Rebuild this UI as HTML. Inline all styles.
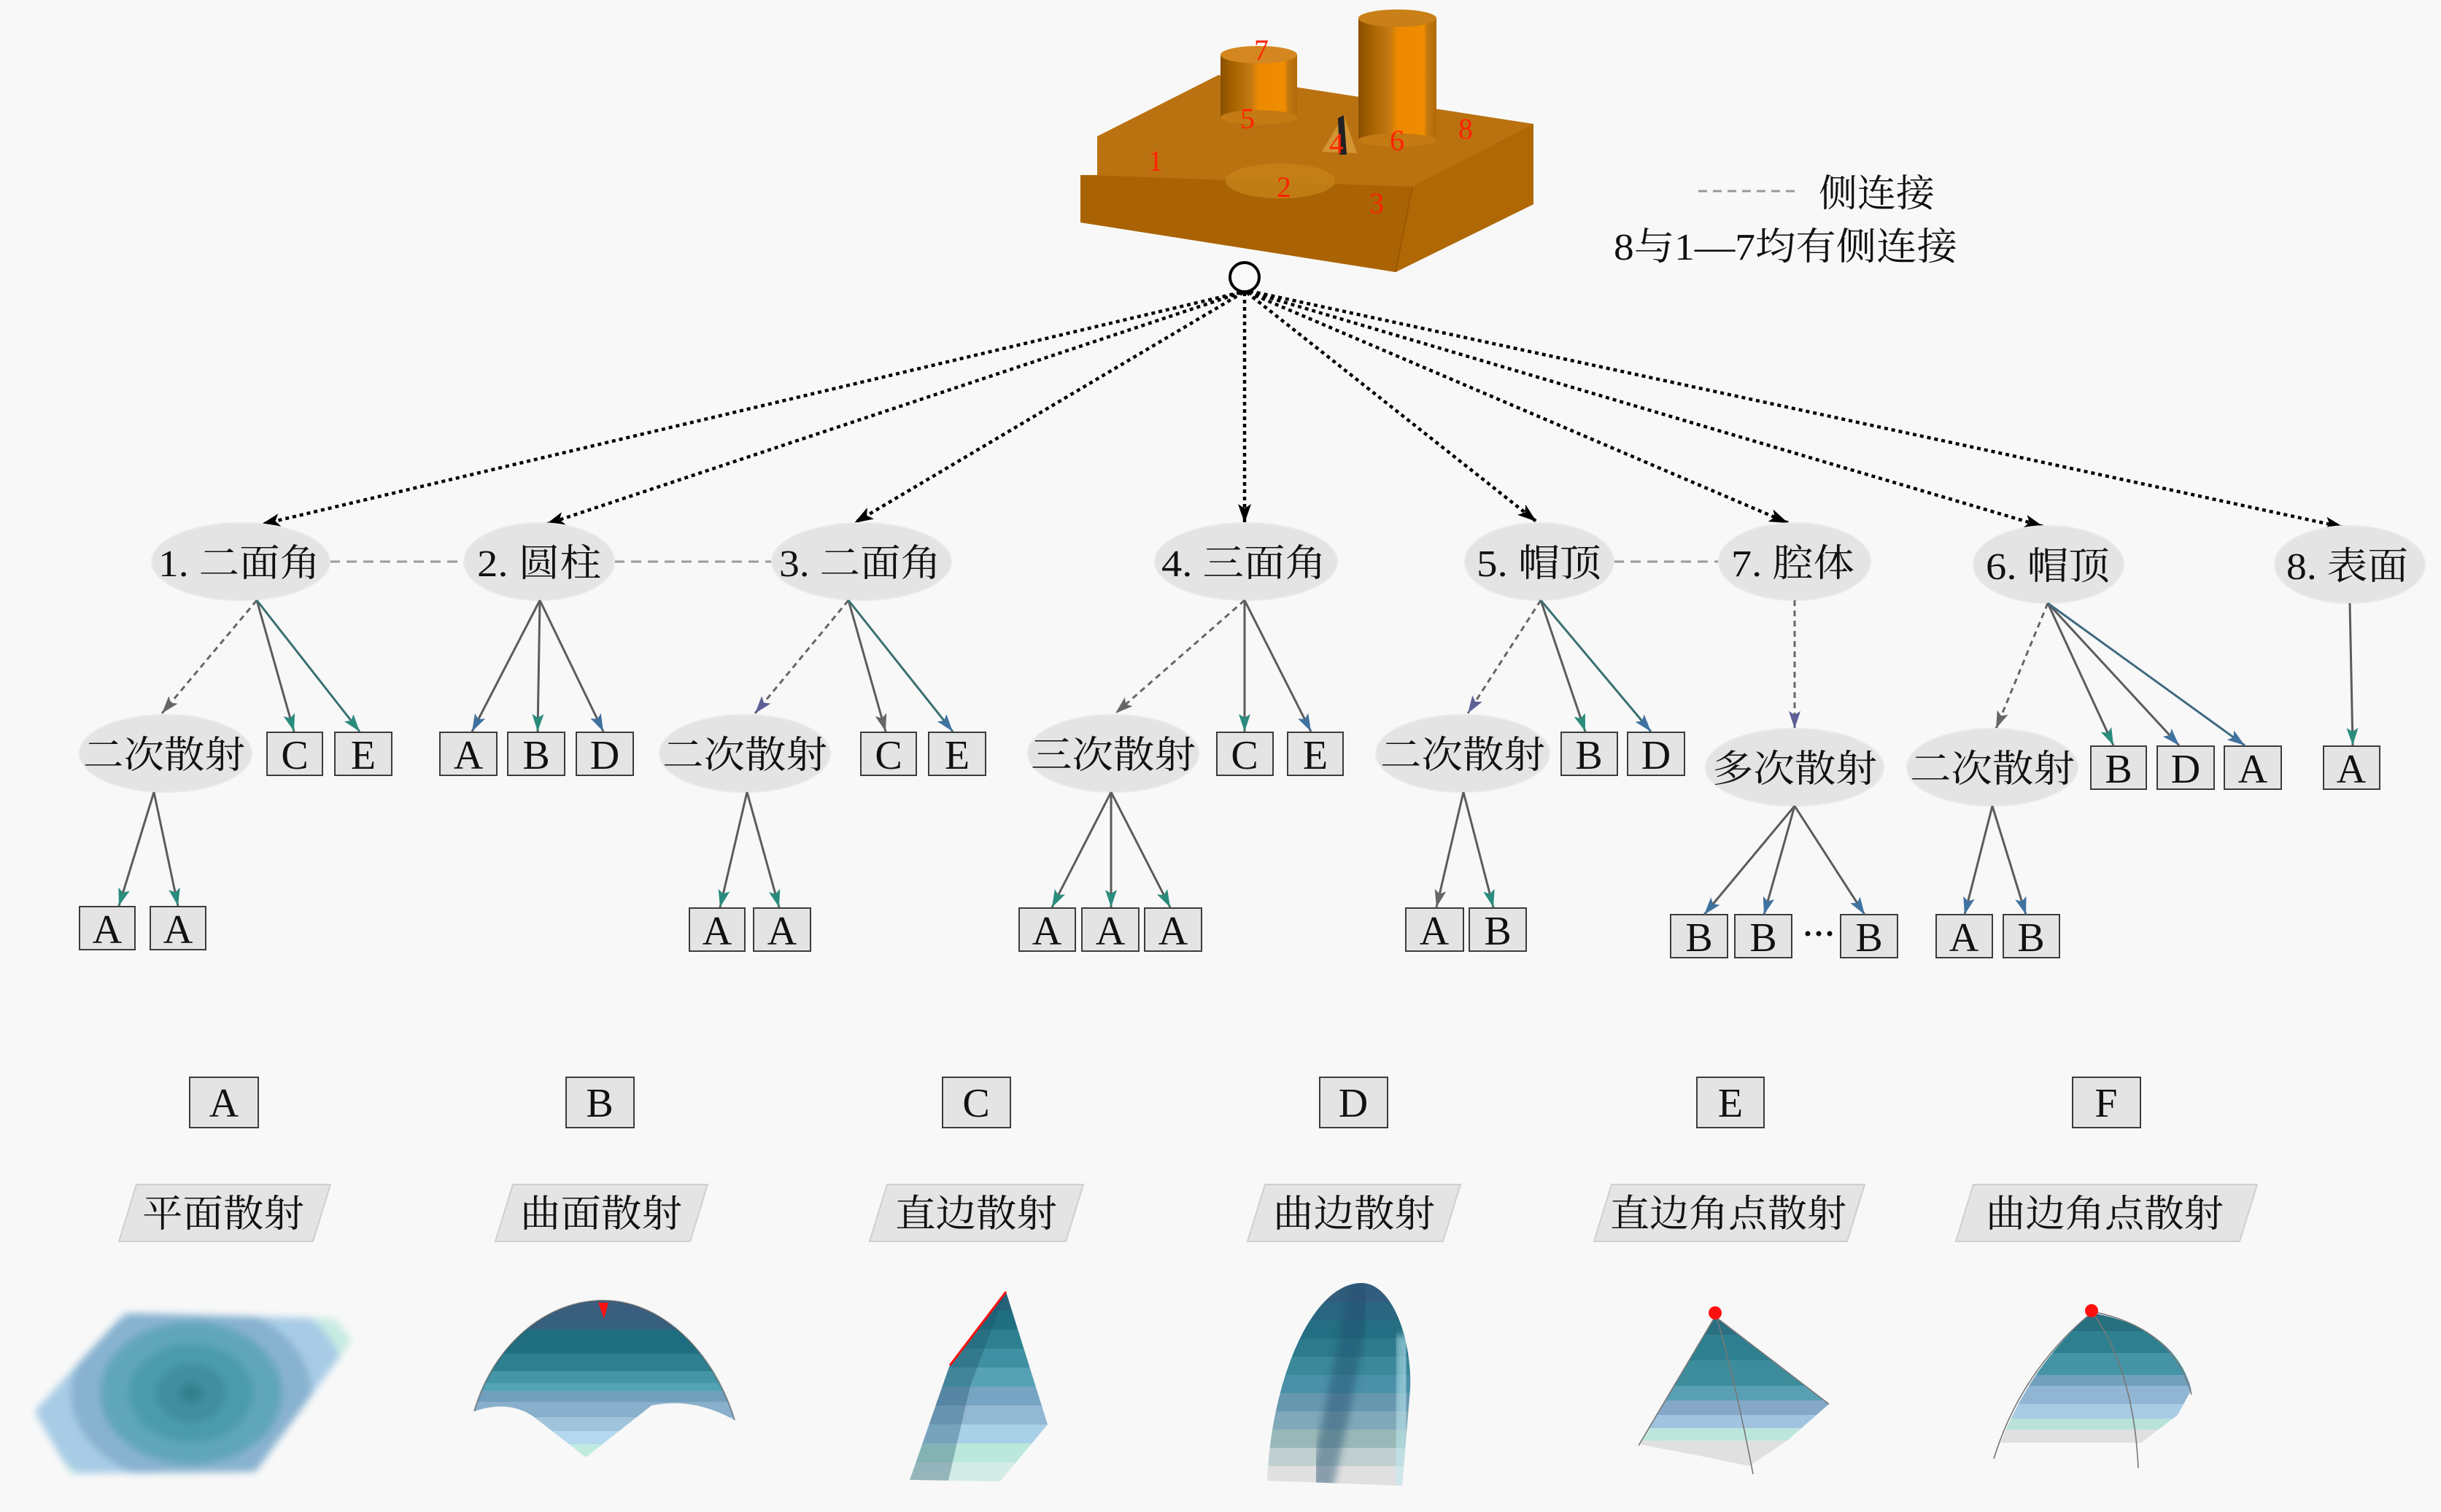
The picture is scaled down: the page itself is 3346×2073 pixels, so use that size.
<!DOCTYPE html>
<html>
<head>
<meta charset="utf-8">
<style>
  html,body{margin:0;padding:0;background:#f8f8f8;}
  body{width:3346px;height:2073px;overflow:hidden;}
  svg{display:block;}
  .cj{font-family:"Liberation Serif","Noto Serif CJK SC","Noto Sans CJK SC",serif;fill:#111;}
  .lt{font-family:"Liberation Serif",serif;fill:#111;}
</style>
</head>
<body>
<svg width="3346" height="2073" viewBox="0 0 3346 2073" xmlns="http://www.w3.org/2000/svg">
<defs>
  <marker id="mk" markerUnits="userSpaceOnUse" viewBox="0 0 26 18" refX="26" refY="9" markerWidth="26" markerHeight="18" orient="auto">
    <path d="M0,0 L26,9 L0,18 L6,9 Z" fill="#000"/>
  </marker>
  <marker id="mt" markerUnits="userSpaceOnUse" viewBox="0 0 24 16" refX="24" refY="8" markerWidth="24" markerHeight="16" orient="auto">
    <path d="M0,0 L24,8 L0,16 L5,8 Z" fill="#2a8c7c"/>
  </marker>
  <marker id="mb" markerUnits="userSpaceOnUse" viewBox="0 0 24 16" refX="24" refY="8" markerWidth="24" markerHeight="16" orient="auto">
    <path d="M0,0 L24,8 L0,16 L5,8 Z" fill="#3f72a0"/>
  </marker>
  <marker id="mg" markerUnits="userSpaceOnUse" viewBox="0 0 24 16" refX="24" refY="8" markerWidth="24" markerHeight="16" orient="auto">
    <path d="M0,0 L24,8 L0,16 L5,8 Z" fill="#666"/>
  </marker>
  <marker id="mp" markerUnits="userSpaceOnUse" viewBox="0 0 24 16" refX="24" refY="8" markerWidth="24" markerHeight="16" orient="auto">
    <path d="M0,0 L24,8 L0,16 L5,8 Z" fill="#5f5f98"/>
  </marker>
  <linearGradient id="cylS" x1="0" x2="1" y1="0" y2="0">
    <stop offset="0" stop-color="#8a5000"/>
    <stop offset="0.16" stop-color="#a66200"/>
    <stop offset="0.4" stop-color="#c47a12"/>
    <stop offset="0.5" stop-color="#ee8a00"/>
    <stop offset="0.84" stop-color="#f08c00"/>
    <stop offset="0.88" stop-color="#c47810"/>
    <stop offset="1" stop-color="#b06a08"/>
  </linearGradient>
  <filter id="bl" x="-10%" y="-10%" width="120%" height="120%"><feGaussianBlur stdDeviation="5"/></filter>
  <filter id="bl2" x="-10%" y="-10%" width="120%" height="120%"><feGaussianBlur stdDeviation="1.5"/></filter>
  <clipPath id="cA"><polygon points="171,1800 459,1808 482,1838 350,2018 96,2020 47,1935"/></clipPath>
  <clipPath id="cB"><path d="M650,1935 C676,1845 748,1783 827,1783 C906,1783 978,1852 1007,1947 Q950,1915 893,1927 L803,1998 L735,1945 Q700,1918 650,1935 Z"/></clipPath>
  <clipPath id="cC"><polygon points="1379,1771 1301,1874 1247,2029 1371,2031 1436,1953"/></clipPath>
  <clipPath id="cD"><path d="M1737,2030 C1742,1900 1795,1760 1866,1759 C1910,1759 1936,1840 1933,1905 L1922,2037 Z"/></clipPath>
  <clipPath id="cE"><polygon points="2351,1805 2246,1980 2330,1996 2398,2010 2450,1975 2507,1925"/></clipPath>
  <clipPath id="cF"><path d="M2867,1800 Q2980,1820 3004,1905 L2985,1940 L2935,1978 L2742,1978 Q2785,1870 2867,1800 Z"/></clipPath>
</defs>

<rect x="0" y="0" width="3346" height="2073" fill="#f8f8f8"/>

<!-- ===== 3D object ===== -->
<g>
  <!-- whole block silhouette -->
  <polygon points="1481,240 1504,240 1504,187 1670,103 2102,170 2102,280 1913,373 1481,305" fill="#b46c0a"/>
  <!-- top face -->
  <polygon points="1504,187 1670,103 2102,170 1936,256 1504,240" fill="#ba7210"/>
  <!-- front lower band -->
  <polygon points="1481,240 1936,256 1913,373 1481,305" fill="#aa6304"/>
  <!-- right face -->
  <polygon points="1936,256 2102,170 2102,280 1913,373" fill="#b06807"/>
  <line x1="1936" y1="256" x2="1913" y2="373" stroke="#9a5800" stroke-width="2"/>
  <!-- cavity 2 -->
  <ellipse cx="1755" cy="248" rx="75" ry="24" fill="#c48018" opacity="0.85"/>
  <!-- wedge 4 -->
  <polygon points="1812,208 1842,158 1860,210" fill="#d49434"/>
  <polygon points="1834,162 1842,158 1846,212 1836,212" fill="#222"/>
  <!-- small cylinder -->
  <rect x="1673" y="75" width="105" height="86" fill="url(#cylS)"/>
  <ellipse cx="1725.5" cy="161" rx="52.5" ry="10" fill="#c47a12"/>
  <ellipse cx="1725.5" cy="75" rx="52.5" ry="12" fill="#d48620"/>
  <!-- tall cylinder -->
  <rect x="1862" y="25" width="107" height="167" fill="url(#cylS)"/>
  <ellipse cx="1915.5" cy="192" rx="53.5" ry="9" fill="#c47a12"/>
  <ellipse cx="1915.5" cy="25" rx="53.5" ry="12" fill="#c98018"/>
  <!-- red labels -->
  <g font-family="Liberation Serif, serif" font-size="40" fill="#ff2200" text-anchor="middle">
    <text x="1729" y="82">7</text>
    <text x="1710" y="176">5</text>
    <text x="1832" y="210">4</text>
    <text x="1915" y="206">6</text>
    <text x="2009" y="190">8</text>
    <text x="1584" y="234">1</text>
    <text x="1760" y="270">2</text>
    <text x="1887" y="292">3</text>
  </g>
</g>

<!-- legend top right -->
<line x1="2328" y1="262" x2="2465" y2="262" stroke="#999" stroke-width="3" stroke-dasharray="12 8"/>
<text class="cj" x="2493" y="283" font-size="52" textLength="159" lengthAdjust="spacingAndGlyphs">侧连接</text>
<text class="cj" x="2212" y="356" font-size="52" textLength="471" lengthAdjust="spacingAndGlyphs">8与1—7均有侧连接</text>

<!-- root circle -->
<circle cx="1706" cy="380" r="20" fill="#fafafa" stroke="#000" stroke-width="4"/>

<!-- ===== top dotted arrows ===== -->
<g stroke="#000" stroke-width="4.5" stroke-dasharray="5 5" fill="none" marker-end="url(#mk)">
  <line x1="1700" y1="401" x2="358" y2="719"/>
  <line x1="1702" y1="401" x2="748" y2="719"/>
  <line x1="1704" y1="401" x2="1171" y2="717"/>
  <line x1="1706" y1="401" x2="1706" y2="717"/>
  <line x1="1709" y1="401" x2="2106" y2="715"/>
  <line x1="1711" y1="401" x2="2451" y2="717"/>
  <line x1="1712" y1="400" x2="2801" y2="722"/>
  <line x1="1713" y1="399" x2="3213" y2="723"/>
</g>

<!-- side connections -->
<g stroke="#9a9a9a" stroke-width="3" stroke-dasharray="14 9">
  <line x1="452" y1="770" x2="636" y2="770"/>
  <line x1="842" y1="770" x2="1058" y2="770"/>
  <line x1="2212" y1="770" x2="2356" y2="770"/>
</g>

<!-- ===== level 1 nodes ===== -->
<g fill="#e4e4e4" stroke="#e9e9e9" stroke-width="2">
  <ellipse cx="330" cy="770" rx="122" ry="53"/>
  <ellipse cx="739" cy="770" rx="103" ry="53"/>
  <ellipse cx="1181" cy="770" rx="123" ry="53"/>
  <ellipse cx="1708" cy="770" rx="125" ry="53"/>
  <ellipse cx="2110" cy="770" rx="102" ry="53"/>
  <ellipse cx="2460" cy="770" rx="104" ry="53"/>
  <ellipse cx="2808" cy="774" rx="103" ry="53"/>
  <ellipse cx="3221" cy="774" rx="103" ry="53"/>
</g>
<g class="cj" font-size="52">
  <text x="217" y="790" textLength="222" lengthAdjust="spacingAndGlyphs">1. 二面角</text>
  <text x="654" y="790" textLength="170" lengthAdjust="spacingAndGlyphs">2. 圆柱</text>
  <text x="1068" y="790" textLength="222" lengthAdjust="spacingAndGlyphs">3. 二面角</text>
  <text x="1592" y="790" textLength="226" lengthAdjust="spacingAndGlyphs">4. 三面角</text>
  <text x="2024" y="790" textLength="171" lengthAdjust="spacingAndGlyphs">5. 帽顶</text>
  <text x="2373" y="790" textLength="169" lengthAdjust="spacingAndGlyphs">7. 腔体</text>
  <text x="2722" y="794" textLength="170" lengthAdjust="spacingAndGlyphs">6. 帽顶</text>
  <text x="3134" y="794" textLength="167" lengthAdjust="spacingAndGlyphs">8. 表面</text>
</g>

<!-- ===== level1 -> level2 arrows ===== -->
<g stroke="#666" stroke-width="3" fill="none">
  <line x1="352" y1="823" x2="222" y2="978" stroke-dasharray="8 6" marker-end="url(#mg)"/>
  <line x1="1163" y1="823" x2="1035" y2="978" stroke-dasharray="8 6" marker-end="url(#mp)"/>
  <line x1="1706" y1="823" x2="1529" y2="978" stroke-dasharray="8 6" marker-end="url(#mg)"/>
  <line x1="2112" y1="823" x2="2012" y2="978" stroke-dasharray="8 6" marker-end="url(#mp)"/>
  <line x1="2460" y1="823" x2="2460" y2="999" stroke-dasharray="8 6" marker-end="url(#mp)"/>
  <line x1="2807" y1="827" x2="2736" y2="999" stroke-dasharray="8 6" marker-end="url(#mg)"/>
</g>
<g stroke="#5c5c5c" stroke-width="3" fill="none">
  <line x1="352" y1="823" x2="403" y2="1003" marker-end="url(#mt)"/>
  <line x1="352" y1="823" x2="493" y2="1003" marker-end="url(#mt)" stroke="#3a7070"/>
  <line x1="740" y1="823" x2="647" y2="1003" marker-end="url(#mb)"/>
  <line x1="740" y1="823" x2="737" y2="1003" marker-end="url(#mt)"/>
  <line x1="740" y1="823" x2="827" y2="1003" marker-end="url(#mb)"/>
  <line x1="1163" y1="823" x2="1214" y2="1003" marker-end="url(#mg)"/>
  <line x1="1163" y1="823" x2="1306" y2="1003" marker-end="url(#mb)" stroke="#3a7070"/>
  <line x1="1706" y1="823" x2="1706" y2="1003" marker-end="url(#mt)"/>
  <line x1="1706" y1="823" x2="1797" y2="1003" marker-end="url(#mb)"/>
  <line x1="2112" y1="823" x2="2173" y2="1003" marker-end="url(#mt)"/>
  <line x1="2112" y1="823" x2="2263" y2="1003" marker-end="url(#mb)" stroke="#3a7070"/>
  <line x1="2807" y1="827" x2="2897" y2="1022" marker-end="url(#mt)"/>
  <line x1="2807" y1="827" x2="2987" y2="1022" marker-end="url(#mb)"/>
  <line x1="2807" y1="827" x2="3077" y2="1022" marker-end="url(#mb)" stroke="#3f6a80"/>
  <line x1="3221" y1="827" x2="3225" y2="1022" marker-end="url(#mt)"/>
</g>

<!-- ===== level 2 ellipses ===== -->
<g fill="#e4e4e4" stroke="#e9e9e9" stroke-width="2">
  <ellipse cx="227" cy="1033" rx="118" ry="53"/>
  <ellipse cx="1021" cy="1033" rx="117" ry="53"/>
  <ellipse cx="1526" cy="1033" rx="117" ry="53"/>
  <ellipse cx="2005" cy="1033" rx="119" ry="53"/>
  <ellipse cx="2460" cy="1052" rx="122" ry="53"/>
  <ellipse cx="2731" cy="1052" rx="117" ry="53"/>
</g>
<g class="cj" font-size="52">
  <text x="114" y="1053" textLength="222" lengthAdjust="spacingAndGlyphs">二次散射</text>
  <text x="908" y="1053" textLength="226" lengthAdjust="spacingAndGlyphs">二次散射</text>
  <text x="1413" y="1053" textLength="226" lengthAdjust="spacingAndGlyphs">三次散射</text>
  <text x="1892" y="1053" textLength="226" lengthAdjust="spacingAndGlyphs">二次散射</text>
  <text x="2347" y="1072" textLength="226" lengthAdjust="spacingAndGlyphs">多次散射</text>
  <text x="2618" y="1072" textLength="226" lengthAdjust="spacingAndGlyphs">二次散射</text>
</g>

<!-- ===== boxes ===== -->
<g fill="#e4e4e4" stroke="#3c3c3c" stroke-width="2">
  <!-- level 2 row y 1004 -->
  <rect x="366" y="1004" width="76" height="59"/>
  <rect x="459" y="1004" width="78" height="59"/>
  <rect x="603" y="1004" width="78" height="59"/>
  <rect x="696" y="1004" width="78" height="59"/>
  <rect x="790" y="1004" width="78" height="59"/>
  <rect x="1180" y="1004" width="76" height="59"/>
  <rect x="1273" y="1004" width="78" height="59"/>
  <rect x="1668" y="1004" width="77" height="59"/>
  <rect x="1765" y="1004" width="76" height="59"/>
  <rect x="2140" y="1004" width="77" height="59"/>
  <rect x="2231" y="1004" width="78" height="59"/>
  <!-- level 2 row y 1023 -->
  <rect x="2866" y="1023" width="76" height="59"/>
  <rect x="2957" y="1023" width="78" height="59"/>
  <rect x="3049" y="1023" width="78" height="59"/>
  <rect x="3185" y="1023" width="77" height="59"/>
  <!-- level 3 -->
  <rect x="109" y="1243" width="76" height="59"/>
  <rect x="206" y="1243" width="76" height="59"/>
  <rect x="945" y="1245" width="76" height="59"/>
  <rect x="1033" y="1245" width="78" height="59"/>
  <rect x="1397" y="1245" width="77" height="59"/>
  <rect x="1483" y="1245" width="78" height="59"/>
  <rect x="1569" y="1245" width="78" height="59"/>
  <rect x="1927" y="1245" width="79" height="59"/>
  <rect x="2014" y="1245" width="78" height="59"/>
  <rect x="2290" y="1254" width="78" height="59"/>
  <rect x="2378" y="1254" width="78" height="59"/>
  <rect x="2523" y="1254" width="78" height="59"/>
  <rect x="2654" y="1254" width="77" height="59"/>
  <rect x="2746" y="1254" width="77" height="59"/>
  <!-- legend boxes -->
  <rect x="260" y="1477" width="94" height="69"/>
  <rect x="776" y="1477" width="93" height="69"/>
  <rect x="1292" y="1477" width="93" height="69"/>
  <rect x="1809" y="1477" width="93" height="69"/>
  <rect x="2326" y="1477" width="92" height="69"/>
  <rect x="2841" y="1477" width="93" height="69"/>
</g>
<g class="lt" font-size="56" text-anchor="middle">
  <text x="404" y="1054">C</text>
  <text x="498" y="1054">E</text>
  <text x="642" y="1054">A</text>
  <text x="735" y="1054">B</text>
  <text x="829" y="1054">D</text>
  <text x="1218" y="1054">C</text>
  <text x="1312" y="1054">E</text>
  <text x="1706" y="1054">C</text>
  <text x="1803" y="1054">E</text>
  <text x="2178" y="1054">B</text>
  <text x="2270" y="1054">D</text>
  <text x="2904" y="1073">B</text>
  <text x="2996" y="1073">D</text>
  <text x="3088" y="1073">A</text>
  <text x="3223" y="1073">A</text>
  <text x="147" y="1293">A</text>
  <text x="244" y="1293">A</text>
  <text x="983" y="1295">A</text>
  <text x="1072" y="1295">A</text>
  <text x="1435" y="1295">A</text>
  <text x="1522" y="1295">A</text>
  <text x="1608" y="1295">A</text>
  <text x="1966" y="1295">A</text>
  <text x="2053" y="1295">B</text>
  <text x="2329" y="1304">B</text>
  <text x="2417" y="1304">B</text>
  <text x="2562" y="1304">B</text>
  <text x="2692" y="1304">A</text>
  <text x="2784" y="1304">B</text>
  <text x="307" y="1531">A</text>
  <text x="822" y="1531">B</text>
  <text x="1338" y="1531">C</text>
  <text x="1855" y="1531">D</text>
  <text x="2372" y="1531">E</text>
  <text x="2887" y="1531">F</text>
</g>
<g fill="#111">
  <circle cx="2478" cy="1280" r="3.5"/>
  <circle cx="2493" cy="1280" r="3.5"/>
  <circle cx="2508" cy="1280" r="3.5"/>
</g>

<!-- ===== level2 -> level3 arrows ===== -->
<g stroke="#5c5c5c" stroke-width="3" fill="none">
  <line x1="211" y1="1086" x2="163" y2="1242" marker-end="url(#mt)"/>
  <line x1="211" y1="1086" x2="244" y2="1242" marker-end="url(#mt)"/>
  <line x1="1024" y1="1086" x2="987" y2="1244" marker-end="url(#mt)"/>
  <line x1="1024" y1="1086" x2="1068" y2="1244" marker-end="url(#mt)"/>
  <line x1="1523" y1="1086" x2="1442" y2="1244" marker-end="url(#mt)"/>
  <line x1="1523" y1="1086" x2="1523" y2="1244" marker-end="url(#mt)"/>
  <line x1="1523" y1="1086" x2="1604" y2="1244" marker-end="url(#mt)"/>
  <line x1="2006" y1="1086" x2="1969" y2="1244" marker-end="url(#mg)"/>
  <line x1="2006" y1="1086" x2="2047" y2="1244" marker-end="url(#mt)"/>
  <line x1="2460" y1="1105" x2="2336" y2="1254" marker-end="url(#mb)"/>
  <line x1="2460" y1="1105" x2="2418" y2="1254" marker-end="url(#mb)"/>
  <line x1="2460" y1="1105" x2="2556" y2="1254" marker-end="url(#mb)"/>
  <line x1="2731" y1="1105" x2="2693" y2="1254" marker-end="url(#mb)"/>
  <line x1="2731" y1="1105" x2="2777" y2="1254" marker-end="url(#mb)"/>
</g>

<!-- ===== legend parallelograms ===== -->
<g fill="#e4e4e4" stroke="#cfcfcf" stroke-width="2">
  <polygon points="187,1624 453,1624 429,1702 163,1702"/>
  <polygon points="703,1624 970,1624 946,1702 679,1702"/>
  <polygon points="1216,1624 1485,1624 1461,1702 1192,1702"/>
  <polygon points="1734,1624 2002,1624 1978,1702 1710,1702"/>
  <polygon points="2209,1624 2556,1624 2532,1702 2185,1702"/>
  <polygon points="2705,1624 3094,1624 3070,1702 2681,1702"/>
</g>
<g class="cj" font-size="52">
  <text x="195" y="1682" textLength="222" lengthAdjust="spacingAndGlyphs">平面散射</text>
  <text x="713" y="1682" textLength="222" lengthAdjust="spacingAndGlyphs">曲面散射</text>
  <text x="1227" y="1682" textLength="222" lengthAdjust="spacingAndGlyphs">直边散射</text>
  <text x="1745" y="1682" textLength="222" lengthAdjust="spacingAndGlyphs">曲边散射</text>
  <text x="2207" y="1682" textLength="324" lengthAdjust="spacingAndGlyphs">直边角点散射</text>
  <text x="2722" y="1682" textLength="326" lengthAdjust="spacingAndGlyphs">曲边角点散射</text>
</g>

<!-- ===== bottom images ===== -->
<!-- A -->
<g filter="url(#bl)">
  <g clip-path="url(#cA)">
    <rect x="40" y="1790" width="450" height="240" fill="#c6ebe1"/>
    <ellipse cx="262" cy="1910" rx="215" ry="160" fill="#a8cce6"/>
    <ellipse cx="262" cy="1910" rx="165" ry="125" fill="#88b2d0"/>
    <ellipse cx="262" cy="1910" rx="125" ry="98" fill="#60a6ba"/>
    <ellipse cx="262" cy="1910" rx="85" ry="68" fill="#4c9bad"/>
    <ellipse cx="262" cy="1910" rx="48" ry="40" fill="#3f8e9f"/>
    <ellipse cx="262" cy="1910" rx="16" ry="14" fill="#33808f"/>
  </g>
</g>
<!-- B -->
<g clip-path="url(#cB)">
  <rect x="640" y="1775" width="380" height="25" fill="#3a5f7e"/>
  <rect x="640" y="1800" width="380" height="23" fill="#37607f"/>
  <rect x="640" y="1823" width="380" height="33" fill="#1f6e80"/>
  <rect x="640" y="1856" width="380" height="24" fill="#2e8090"/>
  <rect x="640" y="1880" width="380" height="16" fill="#4496a6"/>
  <rect x="640" y="1896" width="380" height="11" fill="#52a4b4"/>
  <rect x="640" y="1907" width="380" height="15" fill="#72a0bc"/>
  <rect x="640" y="1922" width="380" height="21" fill="#88b0cc"/>
  <rect x="640" y="1943" width="380" height="19" fill="#a0c4dc"/>
  <rect x="640" y="1962" width="380" height="18" fill="#b4d8ee"/>
  <rect x="640" y="1980" width="380" height="25" fill="#c0ece0"/>
</g>
<path d="M650,1935 C676,1845 748,1783 827,1783 C906,1783 978,1852 1007,1947" fill="none" stroke="#555" stroke-width="2" opacity="0.6"/>
<path d="M820,1786 L834,1786 L828,1808 Z" fill="#ff1010"/>
<!-- C -->
<g clip-path="url(#cC)">
  <rect x="1240" y="1765" width="200" height="32" fill="#25627a"/>
  <rect x="1240" y="1797" width="200" height="26" fill="#1f6f80"/>
  <rect x="1240" y="1823" width="200" height="26" fill="#2e8090"/>
  <rect x="1240" y="1849" width="200" height="26" fill="#3f90a2"/>
  <rect x="1240" y="1875" width="200" height="26" fill="#56a2b4"/>
  <rect x="1240" y="1901" width="200" height="26" fill="#76a4c2"/>
  <rect x="1240" y="1927" width="200" height="26" fill="#92b8d4"/>
  <rect x="1240" y="1953" width="200" height="26" fill="#aad0e8"/>
  <rect x="1240" y="1979" width="200" height="26" fill="#bce8dc"/>
  <rect x="1240" y="2005" width="200" height="30" fill="#d4ece6"/>
  <polygon points="1379,1771 1301,1874 1247,2029 1300,2030 1330,1900" fill="#1c4f6a" opacity="0.35"/>
</g>
<line x1="1379" y1="1771" x2="1302" y2="1872" stroke="#ff1010" stroke-width="3"/>
<!-- D -->
<g clip-path="url(#cD)">
  <rect x="1730" y="1755" width="210" height="30" fill="#345c7c"/>
  <rect x="1730" y="1785" width="210" height="25" fill="#2a6680"/>
  <rect x="1730" y="1810" width="210" height="25" fill="#236e82"/>
  <rect x="1730" y="1835" width="210" height="25" fill="#2c7a8c"/>
  <rect x="1730" y="1860" width="210" height="25" fill="#3a8898"/>
  <rect x="1730" y="1885" width="210" height="25" fill="#4a90a8"/>
  <rect x="1730" y="1910" width="210" height="25" fill="#6898b0"/>
  <rect x="1730" y="1935" width="210" height="25" fill="#80a8b8"/>
  <rect x="1730" y="1960" width="210" height="25" fill="#98b8b8"/>
  <rect x="1730" y="1985" width="210" height="25" fill="#c0d0d0"/>
  <rect x="1730" y="2010" width="210" height="30" fill="#e0e0e0"/>
  <path d="M1866,1762 C1850,1850 1830,1950 1810,2040" stroke="#244e6e" stroke-width="34" fill="none" opacity="0.45" filter="url(#bl)"/>
  <path d="M1925,1830 C1930,1900 1920,1980 1915,2040" stroke="#bfeaf2" stroke-width="26" fill="none" opacity="0.55" filter="url(#bl)"/>
</g>
<!-- E -->
<g clip-path="url(#cE)">
  <rect x="2240" y="1795" width="275" height="35" fill="#2a6f82"/>
  <rect x="2240" y="1830" width="275" height="35" fill="#2e8090"/>
  <rect x="2240" y="1865" width="275" height="35" fill="#3c8c9c"/>
  <rect x="2240" y="1900" width="275" height="20" fill="#5aa0b4"/>
  <rect x="2240" y="1920" width="275" height="20" fill="#86a8c8"/>
  <rect x="2240" y="1940" width="275" height="18" fill="#a0c4e0"/>
  <rect x="2240" y="1958" width="275" height="17" fill="#bce6dc"/>
  <rect x="2240" y="1975" width="275" height="40" fill="#e0e0e0"/>
</g>
<g stroke="#777" stroke-width="1.6" fill="none">
  <line x1="2351" y1="1805" x2="2246" y2="1982"/>
  <line x1="2351" y1="1805" x2="2507" y2="1925"/>
  <path d="M2353,1805 Q2380,1900 2403,2021"/>
</g>
<ellipse cx="2351" cy="1800" rx="9" ry="9" fill="#ff1010"/>
<!-- F -->
<g clip-path="url(#cF)">
  <rect x="2735" y="1792" width="275" height="33" fill="#26707f"/>
  <rect x="2735" y="1825" width="275" height="30" fill="#2e8090"/>
  <rect x="2735" y="1855" width="275" height="30" fill="#4494a6"/>
  <rect x="2735" y="1885" width="275" height="15" fill="#70a0bc"/>
  <rect x="2735" y="1900" width="275" height="25" fill="#90b6d4"/>
  <rect x="2735" y="1925" width="275" height="20" fill="#a8cce4"/>
  <rect x="2735" y="1945" width="275" height="15" fill="#b8e2d8"/>
  <rect x="2735" y="1960" width="275" height="20" fill="#e0e0e0"/>
</g>
<g stroke="#777" stroke-width="1.6" fill="none">
  <path d="M2867,1800 Q2770,1880 2733,2000"/>
  <path d="M2867,1798 Q2980,1820 3004,1912"/>
  <path d="M2869,1800 Q2925,1880 2931,2013"/>
</g>
<ellipse cx="2867" cy="1797" rx="9" ry="9" fill="#ff1010"/>

</svg>
</body>
</html>
